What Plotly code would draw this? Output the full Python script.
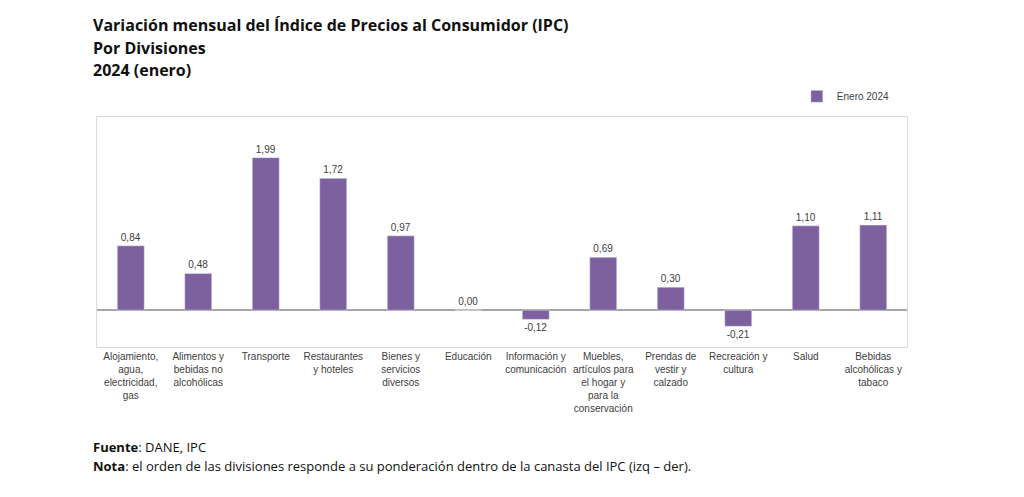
import plotly.graph_objects as go

# divisiones del IPC (orden por ponderación)
divisiones = [
    "Alojamiento,<br>agua,<br>electricidad,<br>gas",
    "Alimentos y<br>bebidas no<br>alcohólicas",
    "Transporte",
    "Restaurantes<br>y hoteles",
    "Bienes y<br>servicios<br>diversos",
    "Educación",
    "Información y<br>comunicación",
    "Muebles,<br>artículos para<br>el hogar y<br>para la<br>conservación",
    "Prendas de<br>vestir y<br>calzado",
    "Recreación y<br>cultura",
    "Salud",
    "Bebidas<br>alcohólicas y<br>tabaco",
]
enero_2024 = [0.84, 0.48, 1.99, 1.72, 0.97, 0.00, -0.12, 0.69, 0.30, -0.21, 1.10, 1.11]

etiquetas = [f"{v:.2f}".replace(".", ",") for v in enero_2024]
pos = list(range(len(divisiones)))

# margenes (la página añade 8px de margen al body)
M_L, M_R, M_T, M_B = 89, 125, 109, 158
ALTO = 497 - M_T - M_B
BASE = 497 - M_B

fig = go.Figure()
fig.add_trace(go.Bar(
    x=pos, y=enero_2024, name="Enero 2024",
    marker=dict(color="#7d609e"), width=0.4,
    text=etiquetas, textposition="outside", cliponaxis=False,
    textfont=dict(family="Liberation Sans, Arial", size=10, color="#404040"),
))

fig.update_layout(
    width=1024, height=497,
    paper_bgcolor="white", plot_bgcolor="white",
    margin=dict(l=M_L, r=M_R, t=M_T, b=M_B),
    font=dict(family="Liberation Sans, Arial", size=10, color="#404040"),
    showlegend=True,
    legend=dict(x=0.985, xanchor="right", y=1.09, yanchor="middle",
                font=dict(size=10, color="#404040"),
                itemwidth=30, bgcolor="rgba(0,0,0,0)"),
)
fig.update_xaxes(
    tickmode="array", tickvals=pos, ticktext=divisiones,
    range=[-0.5, len(divisiones) - 0.5],
    showline=True, mirror=True, linecolor="#d9d9d9", linewidth=1,
    ticks="", showgrid=False, zeroline=False,
    tickfont=dict(size=10, color="#404040"),
    tickangle=0,
)
fig.update_yaxes(
    range=[-0.48, 2.52], showticklabels=False, showgrid=False,
    showline=True, mirror=True, linecolor="#d9d9d9", linewidth=1,
    zeroline=True, zerolinecolor="#a6a6a6", zerolinewidth=1.5,
)

# títulos
titulos = [
    "Variación mensual del Índice de Precios al Consumidor (IPC)",
    "Por Divisiones",
    "2024 (enero)",
]
for i, t in enumerate(titulos):
    fig.add_annotation(
        text=f"<b>{t}</b>", xref="paper", yref="paper",
        x=0, y=(BASE - 17 - i * 22.5) / ALTO,
        xanchor="left", yanchor="middle", showarrow=False,
        font=dict(family="Open Sans, Noto Sans", size=16, color="#111111"),
        xshift=-6,
    )

notas = [
    "<b>Fuente</b>: DANE, IPC",
    "<b>Nota</b>: el orden de las divisiones responde a su ponderación dentro de la canasta del IPC (izq – der).",
]
for i, t in enumerate(notas):
    fig.add_annotation(
        text=t, xref="paper", yref="paper",
        x=0, y=(BASE - 439 - i * 18.5) / ALTO,
        xanchor="left", yanchor="middle", showarrow=False,
        font=dict(family="Open Sans, Noto Sans", size=13, color="#111111"),
        xshift=-6,
    )

fig.write_html("out.html")
